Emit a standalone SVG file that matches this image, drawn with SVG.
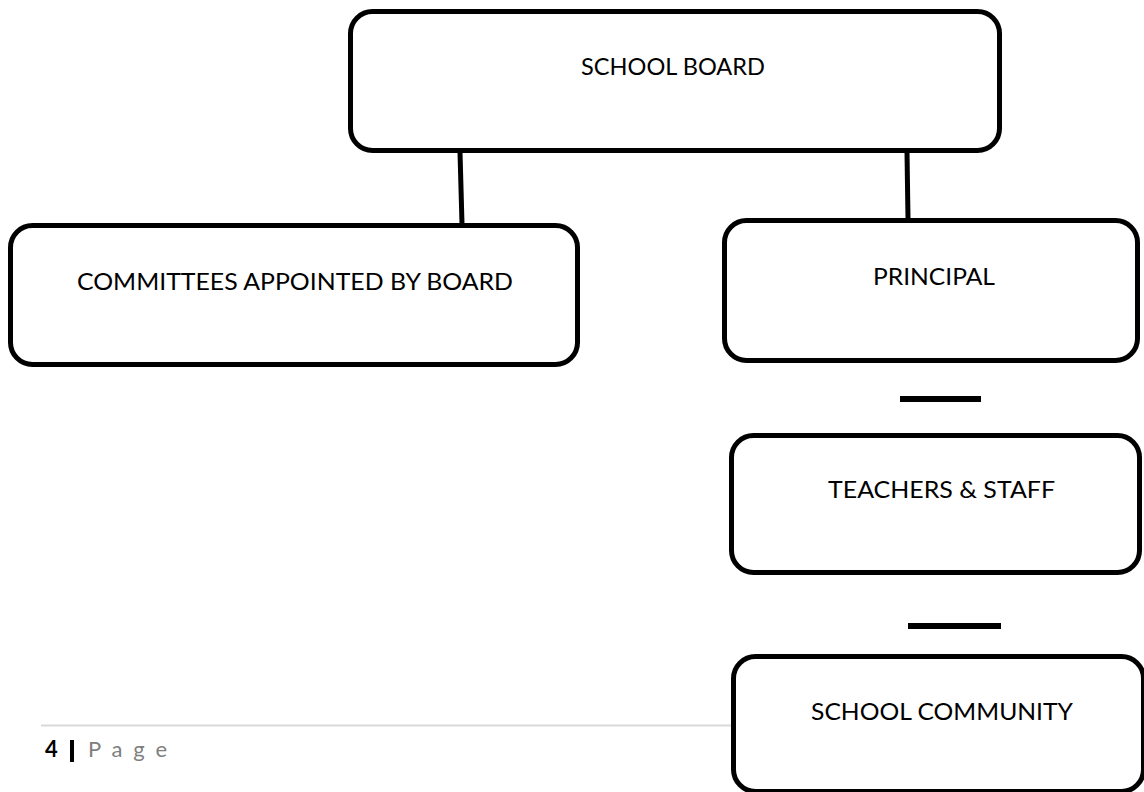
<svg xmlns="http://www.w3.org/2000/svg" width="1144" height="792" viewBox="0 0 1144 792">
<style>
.box{fill:#fff;stroke:#000;stroke-width:5}
.lbl{font-family:Lato,"Open Sans","Liberation Sans",sans-serif;font-size:23px;fill:#000}
.conn{stroke:#000;stroke-width:5;fill:none}
.foot{font-family:Lato,"Open Sans","Liberation Sans",sans-serif;font-size:22px}
</style>
<rect width="1144" height="792" fill="#fff"/>
<g id="connectors">
<line class="conn" x1="460" y1="152" x2="462" y2="224"/>
<line class="conn" x1="907" y1="152" x2="908" y2="219"/>
<line class="conn" x1="900" y1="399" x2="981" y2="399" style="stroke-width:6"/>
<line class="conn" x1="908" y1="626" x2="1001" y2="626" style="stroke-width:6"/>
</g>
<g id="school-board">
<rect class="box" x="350.5" y="11.5" width="649" height="139" rx="22"/>
<text class="lbl" x="581" y="75" textLength="184" lengthAdjust="spacingAndGlyphs">SCHOOL BOARD</text>
</g>
<g id="committees">
<rect class="box" x="10.5" y="225.5" width="567" height="139" rx="22"/>
<text class="lbl" x="77" y="290" textLength="436" lengthAdjust="spacingAndGlyphs">COMMITTEES APPOINTED BY BOARD</text>
</g>
<g id="principal">
<rect class="box" x="724.5" y="220.5" width="413" height="140" rx="22"/>
<text class="lbl" x="873" y="285" textLength="122" lengthAdjust="spacingAndGlyphs">PRINCIPAL</text>
</g>
<g id="teachers">
<rect class="box" x="731.5" y="435.5" width="408" height="137" rx="22"/>
<text class="lbl" x="828" y="498" textLength="227" lengthAdjust="spacingAndGlyphs">TEACHERS &amp; STAFF</text>
</g>
<g id="footer">
<line x1="41" y1="725.5" x2="731" y2="725.5" stroke="#d9d9d9" stroke-width="2"/>
<text class="foot" x="45" y="757" font-weight="bold" fill="#000">4</text>
<rect x="70" y="740" width="4" height="22" fill="#000"/>
<text class="foot" x="88" y="757" fill="#7f7f7f" textLength="79" lengthAdjust="spacing">P a g e</text>
</g>
<g id="community">
<rect class="box" x="733.5" y="656.5" width="410" height="135" rx="22"/>
<text class="lbl" x="811" y="720" textLength="262" lengthAdjust="spacingAndGlyphs">SCHOOL COMMUNITY</text>
</g>
</svg>
